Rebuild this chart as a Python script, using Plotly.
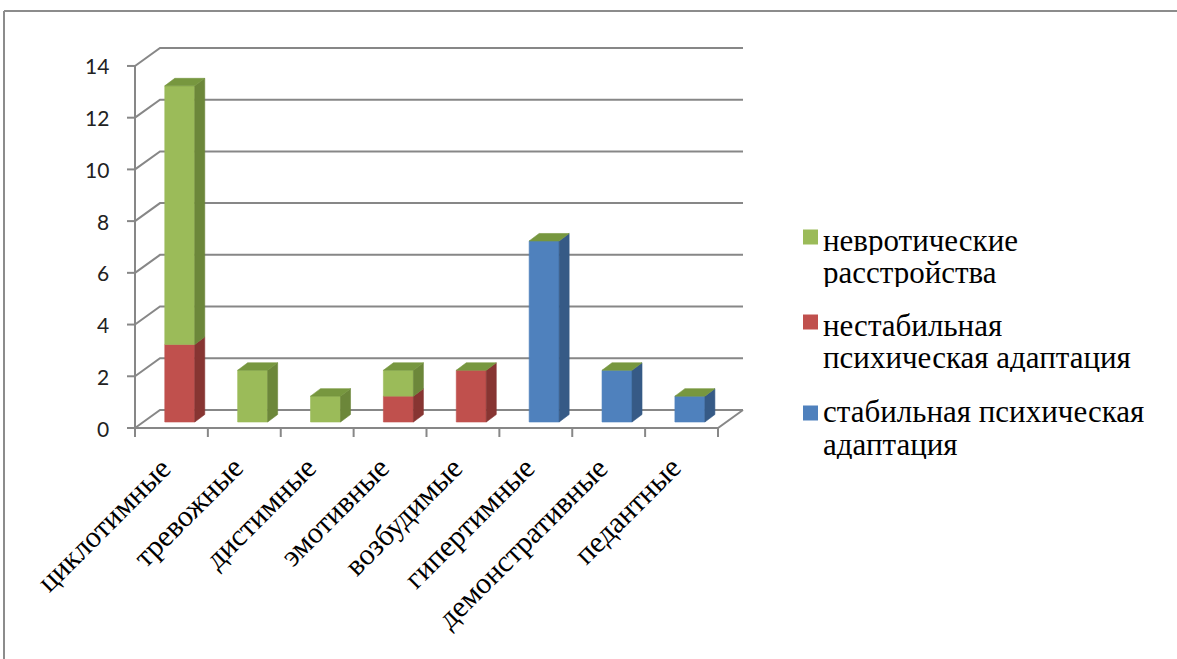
import plotly.graph_objects as go

# ---- data -------------------------------------------------------------
categories = ["циклотимные", "тревожные", "дистимные", "эмотивные",
              "возбудимые", "гипертимные", "демонстративные", "педантные"]
# stacking order bottom -> top
stable = [0, 0, 0, 0, 0, 7, 2, 1]        # стабильная психическая адаптация
unstable = [3, 0, 0, 1, 2, 0, 0, 0]      # нестабильная психическая адаптация
neurotic = [10, 2, 1, 1, 0, 0, 0, 0]     # невротические расстройства

series_names = ["стабильная психическая<br>адаптация",
                "нестабильная<br>психическая адаптация",
                "невротические<br>расстройства"]
series_values = [stable, unstable, neurotic]
y_ticks = [0, 2, 4, 6, 8, 10, 12, 14]

# ---- styling ----------------------------------------------------------
front_col = ["#4F81BD", "#C0504D", "#9BBB59"]
side_col = ["#365A86", "#873532", "#6C873A"]
top_col = ["#4A74A8", "#A64542", "#77973F"]
GRID = "#878787"
SERIF = "Liberation Serif"

W, H = 1177, 659
X0PX, Y0PX = 135, 428          # pixel position of the front origin
PXX, PXY = 72.875, 25.86       # pixels per category / per unit value

DX, DY = 25 / PXX, 18 / PXY    # wall depth
F0 = 1 / 3                     # bars stand at this fraction of the depth
BW = 30 / PXX                  # bar width
BX, BY = 10 / PXX, 7.5 / PXY   # bar depth

n = len(categories)
fig = go.Figure()


def poly(xs, ys, color):
    fig.add_trace(go.Scatter(x=xs + [xs[0]], y=ys + [ys[0]], mode="lines",
                             fill="toself", fillcolor=color,
                             line=dict(width=0.6, color=color),
                             hoverinfo="skip", showlegend=False))


# ---- walls / grid -----------------------------------------------------
gx, gy = [], []
for v in y_ticks:
    gx += [0, DX, n + DX, None]
    gy += [v, v + DY, v + DY, None]
    gx += [-8 / PXX, 0, None]
    gy += [v, v, None]
# vertical axis, floor front edge and floor right edge
gx += [0, 0, None, 0, n, n + DX, None]
gy += [0, max(y_ticks), None, 0, 0, DY, None]
for i in range(n + 1):
    gx += [i, i, None]
    gy += [0, -9 / PXY, None]
fig.add_trace(go.Scatter(x=gx, y=gy, mode="lines",
                         line=dict(color=GRID, width=2),
                         hoverinfo="skip", showlegend=False))

# ---- 3-D stacked columns ---------------------------------------------
for i in range(n):
    xl = i + 0.5 - BW / 2 + DX * F0
    xr = xl + BW
    base = DY * F0
    level = 0
    for s, vals in enumerate(series_values):
        v = vals[i]
        if v == 0:
            continue
        y0, y1 = base + level, base + level + v
        poly([xl, xr, xr, xl], [y0, y0, y1, y1], front_col[s])
        poly([xr, xr + BX, xr + BX, xr], [y0, y0 + BY, y1 + BY, y1], side_col[s])
        level += v
    # lid of the stack comes from the topmost series
    yt = base + level
    poly([xl, xr, xr + BX, xl + BX], [yt, yt, yt + BY, yt + BY], top_col[-1])

# ---- axis labels -------------------------------------------------------
for v in y_ticks:
    fig.add_annotation(x=-24 / PXX, y=v, xref="x", yref="y", text=str(v),
                       showarrow=False, xanchor="right", yanchor="middle",
                       font=dict(family="Lato", size=21, color="#222"))

for i, c in enumerate(categories):
    fig.add_annotation(x=i + 0.5 + 8 / PXX, y=-20 / PXY, xref="x", yref="y",
                       text=c, textangle=-45, showarrow=False,
                       xanchor="right", yanchor="top",
                       font=dict(family=SERIF, size=30, color="#000"))

# ---- legend ------------------------------------------------------------
leg_x = 803
leg_rows = [(237, [240, 272], 2), (322, [325, 357], 1), (413, [411, 444], 0)]
for sq_y, line_ys, s in leg_rows:
    fig.add_shape(type="rect", xref="paper", yref="paper",
                  x0=leg_x / W, x1=(leg_x + 15) / W,
                  y0=1 - (sq_y + 7.5) / H, y1=1 - (sq_y - 7.5) / H,
                  fillcolor=front_col[s], line=dict(width=0))
    for ly, txt in zip(line_ys, series_names[s].split("<br>")):
        fig.add_annotation(x=(leg_x + 19) / W, y=1 - ly / H, xref="paper",
                           yref="paper", text=txt, showarrow=False,
                           xanchor="left", yanchor="middle", height=30,
                           valign="middle", borderpad=0,
                           font=dict(family=SERIF, size=31, color="#000"))

# ---- outer frame -------------------------------------------------------
fig.add_shape(type="line", xref="paper", yref="paper", x0=4 / W, x1=1,
              y0=1 - 11 / H, y1=1 - 11 / H, line=dict(color="#8C8C8C", width=2))
fig.add_shape(type="line", xref="paper", yref="paper", x0=4 / W, x1=4 / W,
              y0=0, y1=1 - 11 / H, line=dict(color="#8C8C8C", width=2))

fig.update_layout(
    width=W, height=H, margin=dict(l=0, r=0, t=0, b=0),
    paper_bgcolor="white", plot_bgcolor="white",
    xaxis=dict(range=[-X0PX / PXX, (W - X0PX) / PXX], visible=False,
               fixedrange=True),
    yaxis=dict(range=[(Y0PX - H) / PXY, Y0PX / PXY], visible=False,
               fixedrange=True),
)

fig.write_html("out.html")
